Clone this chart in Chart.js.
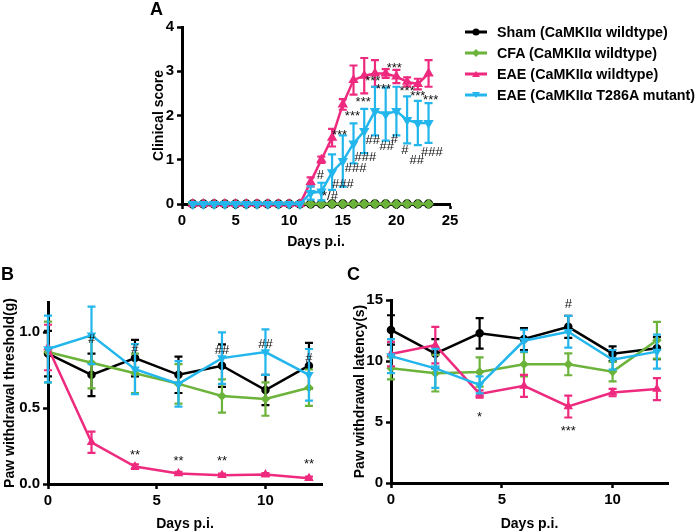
<!DOCTYPE html>
<html>
<head>
<meta charset="utf-8">
<script src="https://cdn.jsdelivr.net/npm/chart.js@4.4.1/dist/chart.umd.min.js"></script>
<style>
body{margin:0;background:#fff;font-family:'Liberation Sans',Arial,sans-serif;}
#wrap{position:relative;width:700px;height:532px;overflow:hidden;}
canvas{position:absolute;}
.tag{position:absolute;font-weight:bold;font-size:18px;color:#000;}
#legend{position:absolute;left:465px;top:21px;font-weight:bold;font-size:14.3px;color:#000;}
#legend div{height:21px;display:flex;align-items:center;white-space:nowrap;}
#legend svg{margin-right:10px;}
</style>
</head>
<body>
<div id="wrap">
  <canvas id="chartA" width="330" height="260" style="left:140px;top:0px"></canvas>
  <canvas id="chartB" width="350" height="270" style="left:0px;top:265px"></canvas>
  <canvas id="chartC" width="350" height="270" style="left:350px;top:265px"></canvas>
  <div class="tag" style="left:150px;top:-1px">A</div>
  <div class="tag" style="left:1px;top:264px">B</div>
  <div class="tag" style="left:347px;top:264px">C</div>
  <div id="legend"></div>
</div>
<script>
// groupes (même ordre partout)
const seriesNames = ['Sham (CaMKIIα wildtype)', 'CFA (CaMKIIα wildtype)', 'EAE (CaMKIIα wildtype)', 'EAE (CaMKIIα T286A mutant)'];
const seriesColors = ['#000000', '#6bb33a', '#ee2a7f', '#22b6ec'];
const pointStyles = ['circle', 'rectRot', 'triangle', 'triangle'];
const pointRotations = [0, 0, 0, 180];
const drawOrder = [3, 2, 1, 0]; // le mutant est dessiné au-dessus

// panneau A : score clinique
const daysA = [1,2,3,4,5,6,7,8,9,10,11,12,13,14,15,16,17,18,19,20,21,22,23];
const shamA = [0,0,0,0,0,0,0,0,0,0,0,0,0,0,0,0,0,0,0,0,0,0,0];
const cfaA  = [0,0,0,0,0,0,0,0,0,0,0,0,0,0,0,0,0,0,0,0,0,0,0];
const eaeA  = [0,0,0,0,0,0,0,0,0,0,0,0.5,1.0,1.5,2.25,2.8,2.9,2.95,2.95,2.88,2.76,2.71,2.95];
const mutA  = [0,0,0,0,0,0,0,0,0,0,0,0.25,0.28,0.72,0.97,1.37,1.65,2.1,2.03,2.1,1.9,1.83,1.83];
const shamErrA = [0,0,0,0,0,0,0,0,0,0,0,0,0,0,0,0,0,0,0,0,0,0,0];
const cfaErrA  = [0,0,0,0,0,0,0,0,0,0,0,0,0,0,0,0,0,0,0,0,0,0,0];
const eaeErrA  = [0,0,0,0,0,0,0,0,0,0,0,0.1,0.07,0.2,0.12,0.33,0.4,0.3,0.1,0.15,0.1,0.12,0.3];
const mutErrA  = [0,0,0,0,0,0,0,0,0,0,0,0.15,0.2,0.4,0.58,0.45,0.5,0.55,0.6,0.55,0.53,0.5,0.45];
const xTicksA = [0, 5, 10, 15, 20, 25];
const yTicksA = [0, 1, 2, 3, 4];
const marksA = [
  {x:12.9, y:0.65, t:'#'}, {x:13.8, y:0.17, t:'*/#'}, {x:15.0, y:0.45, t:'###'},
  {x:16.2, y:0.8, t:'###'}, {x:17.1, y:1.06, t:'###'}, {x:17.8, y:1.44, t:'##'},
  {x:19.1, y:1.29, t:'##'}, {x:19.8, y:1.45, t:'#'}, {x:20.8, y:1.22, t:'#'},
  {x:21.9, y:0.99, t:'##'}, {x:23.3, y:1.17, t:'###'},
  {x:14.7, y:1.56, t:'***'}, {x:15.9, y:1.97, t:'***'}, {x:16.9, y:2.3, t:'***'},
  {x:17.8, y:2.78, t:'***'}, {x:18.8, y:2.6, t:'***'}, {x:19.8, y:3.07, t:'***'},
  {x:21.0, y:2.55, t:'***'}, {x:22.0, y:2.42, t:'***'}, {x:23.2, y:2.33, t:'***'}
];

// panneau B : seuil de retrait de la patte
const daysB = [0, 2, 4, 6, 8, 10, 12];
const shamB = [0.86, 0.72, 0.83, 0.72, 0.78, 0.62, 0.78];
const cfaB  = [0.87, 0.8, 0.73, 0.66, 0.58, 0.56, 0.635];
const eaeB  = [0.9, 0.275, 0.115, 0.07, 0.058, 0.062, 0.038];
const mutB  = [0.89, 0.98, 0.757, 0.66, 0.83, 0.87, 0.72];
const shamErrB = [0.15, 0.14, 0.12, 0.12, 0.14, 0.1, 0.15];
const cfaErrB  = [0.2, 0.17, 0.13, 0.13, 0.11, 0.11, 0.12];
const eaeErrB  = [0.15, 0.07, 0.015, 0.01, 0.01, 0.01, 0.01];
const mutErrB  = [0.22, 0.19, 0.165, 0.15, 0.17, 0.15, 0.17];
const xTicksB = [0, 5, 10];
const yTicksB = [0, 0.5, 1.0];
const marksB = [
  {x:2, y:0.95, t:'#'}, {x:4, y:0.89, t:'#'}, {x:8, y:0.88, t:'##'},
  {x:10, y:0.92, t:'##'}, {x:12, y:0.83, t:'#'},
  {x:4, y:0.19, t:'**'}, {x:6, y:0.15, t:'**'}, {x:8, y:0.15, t:'**'}, {x:12, y:0.13, t:'**'}
];

// panneau C : latence de retrait de la patte
const daysC = [0, 2, 4, 6, 8, 10, 12];
const shamC = [12.55, 10.6, 12.27, 11.8, 12.8, 10.6, 11.05];
const cfaC  = [9.4, 9.0, 9.1, 9.73, 9.73, 9.13, 11.7];
const eaeC  = [10.57, 11.3, 7.3, 7.96, 6.27, 7.41, 7.7];
const mutC  = [10.4, 9.4, 8.04, 11.66, 12.4, 10.1, 10.77];
const shamErrC = [1.2, 1.2, 1.25, 0.9, 0.9, 0.6, 0.9];
const cfaErrC  = [0.9, 1.5, 1.2, 1.0, 0.9, 0.8, 1.5];
const eaeErrC  = [1.0, 1.5, 0.3, 0.9, 0.9, 0.3, 0.9];
const mutErrC  = [1.4, 1.6, 0.7, 0.9, 1.3, 0.8, 1.4];
const xTicksC = [0, 5, 10];
const yTicksC = [0, 5, 10, 15];
const marksC = [{x:8, y:14.6, t:'#'}, {x:4, y:5.4, t:'*'}, {x:8, y:4.2, t:'***'}];

const FONT = "'Liberation Sans', Arial, sans-serif";
Chart.defaults.font.family = FONT;
Chart.defaults.color = '#000';

// barres d'erreur dessinées juste après chaque série
const errorBars = {
  id: 'errorBars',
  afterDatasetDraw(chart, args) {
    const ds = chart.data.datasets[args.index];
    if (!ds.err) return;
    const {ctx} = chart;
    const xs = chart.scales.x, ys = chart.scales.y;
    ctx.save();
    ctx.strokeStyle = ds.borderColor;
    ctx.lineWidth = 2.2;
    ds.data.forEach((p, i) => {
      const e = ds.err[i];
      if (!e) return;
      const px = xs.getPixelForValue(p.x);
      const top = ys.getPixelForValue(p.y + e);
      const bot = ys.getPixelForValue(Math.max(p.y - e, ys.min));
      ctx.beginPath();
      ctx.moveTo(px, top); ctx.lineTo(px, bot);
      ctx.moveTo(px - 4, top); ctx.lineTo(px + 4, top);
      ctx.moveTo(px - 4, bot); ctx.lineTo(px + 4, bot);
      ctx.stroke();
    });
    ctx.restore();
  }
};

function marksPlugin(items) {
  return {
    id: 'marks',
    afterDatasetsDraw(chart) {
      const {ctx} = chart;
      const xs = chart.scales.x, ys = chart.scales.y;
      ctx.save();
      ctx.fillStyle = '#111';
      ctx.font = '13px ' + FONT;
      ctx.textAlign = 'center';
      ctx.textBaseline = 'middle';
      items.forEach(m => ctx.fillText(m.t, xs.getPixelForValue(m.x), ys.getPixelForValue(m.y)));
      ctx.restore();
    }
  };
}

function makeDatasets(days, values, errs, radius) {
  return values.map((vals, k) => ({
    label: seriesNames[k],
    data: vals.map((v, i) => ({x: days[i], y: v})),
    err: errs[k],
    borderColor: seriesColors[k],
    backgroundColor: seriesColors[k],
    pointBackgroundColor: seriesColors[k],
    pointBorderColor: seriesColors[k],
    pointStyle: pointStyles[k],
    rotation: pointRotations[k],
    pointRadius: radius,
    borderWidth: 2.5,
    tension: 0,
    clip: false,
    order: drawOrder[k]
  }));
}

function makeChart(id, datasets, cfg) {
  return new Chart(document.getElementById(id), {
    type: 'line',
    data: {datasets},
    plugins: [errorBars, marksPlugin(cfg.marks)],
    options: {
      responsive: false,
      animation: false,
      events: [],
      layout: {padding: {top: cfg.padTop, right: cfg.padRight, left: cfg.padLeft, bottom: 0}},
      plugins: {legend: {display: false}, tooltip: {enabled: false}},
      scales: {
        x: {
          type: 'linear', min: cfg.xMin, max: cfg.xMax,
          afterBuildTicks: s => { s.ticks = cfg.xTicks.map(v => ({value: v})); },
          afterFit: s => { s.height = cfg.xHeight; },
          ticks: {font: {size: 15, weight: 'bold'}, padding: 3, color: '#000', maxRotation: 0},
          grid: {drawOnChartArea: false, drawTicks: true, tickLength: 5, tickWidth: 2.5, tickColor: '#000'},
          border: {color: '#000', width: 3},
          title: {display: true, text: 'Days p.i.', font: {size: 14, weight: 'bold'}, color: '#000', padding: {top: 4, bottom: cfg.xTitlePad}}
        },
        y: {
          type: 'linear', min: cfg.yMin, max: cfg.yMax,
          afterBuildTicks: s => { s.ticks = cfg.yTicks.map(v => ({value: v})); },
          afterFit: s => { s.width = cfg.yWidth; },
          ticks: {font: {size: 15, weight: 'bold'}, padding: 3, color: '#000', callback: cfg.yFmt},
          grid: {drawOnChartArea: false, drawTicks: true, tickLength: 5, tickWidth: 2.5, tickColor: '#000'},
          border: {color: '#000', width: 3},
          title: {display: true, text: cfg.yLabel, font: {size: 14, weight: 'bold'}, color: '#000', padding: {top: 2, bottom: 2}}
        }
      }
    }
  });
}

makeChart('chartA', makeDatasets(daysA, [shamA, cfaA, eaeA, mutA], [shamErrA, cfaErrA, eaeErrA, mutErrA], 3.5), {
  marks: marksA, padTop: 27, padRight: 20, padLeft: 9, xHeight: 56, yWidth: 33, xTitlePad: 9,
  xMin: 0, xMax: 25, xTicks: xTicksA, yMin: 0, yMax: 4, yTicks: yTicksA,
  yLabel: 'Clinical score', yFmt: v => String(v)
});

makeChart('chartB', makeDatasets(daysB, [shamB, cfaB, eaeB, mutB], [shamErrB, cfaErrB, eaeErrB, mutErrB], 3), {
  marks: marksB, padTop: 37, padRight: 28, padLeft: 0, xHeight: 51, yWidth: 48, xTitlePad: 2,
  xMin: 0, xMax: 12.6, xTicks: xTicksB, yMin: 0, yMax: 1.2, yTicks: yTicksB,
  yLabel: 'Paw withdrawal threshold(g)', yFmt: v => v.toFixed(1)
});

makeChart('chartC', makeDatasets(daysC, [shamC, cfaC, eaeC, mutC], [shamErrC, cfaErrC, eaeErrC, mutErrC], 3), {
  marks: marksC, padTop: 35, padRight: 32, padLeft: 0, xHeight: 52, yWidth: 41, xTitlePad: 2,
  xMin: 0, xMax: 12.5, xTicks: xTicksC, yMin: 0, yMax: 15, yTicks: yTicksC,
  yLabel: 'Paw withdrawal latency(s)', yFmt: v => String(v)
});

// légende HTML (échantillon ligne + marqueur)
function markerSvg(k) {
  const c = seriesColors[k];
  let m;
  if (pointStyles[k] === 'circle') m = `<circle cx="11" cy="5" r="3.5" fill="${c}"/>`;
  else if (pointStyles[k] === 'rectRot') m = `<polygon points="11,1 15,5 11,9 7,5" fill="${c}"/>`;
  else if (pointRotations[k] === 180) m = `<polygon points="7,2 15,2 11,8" fill="${c}"/>`;
  else m = `<polygon points="7,8 15,8 11,2" fill="${c}"/>`;
  return `<svg width="22" height="10"><line x1="0" y1="5" x2="22" y2="5" stroke="${c}" stroke-width="3"/>${m}</svg>`;
}
const legend = document.getElementById('legend');
seriesNames.forEach((name, k) => {
  const row = document.createElement('div');
  row.innerHTML = markerSvg(k);
  row.appendChild(document.createTextNode(name));
  legend.appendChild(row);
});
</script>
</body>
</html>
